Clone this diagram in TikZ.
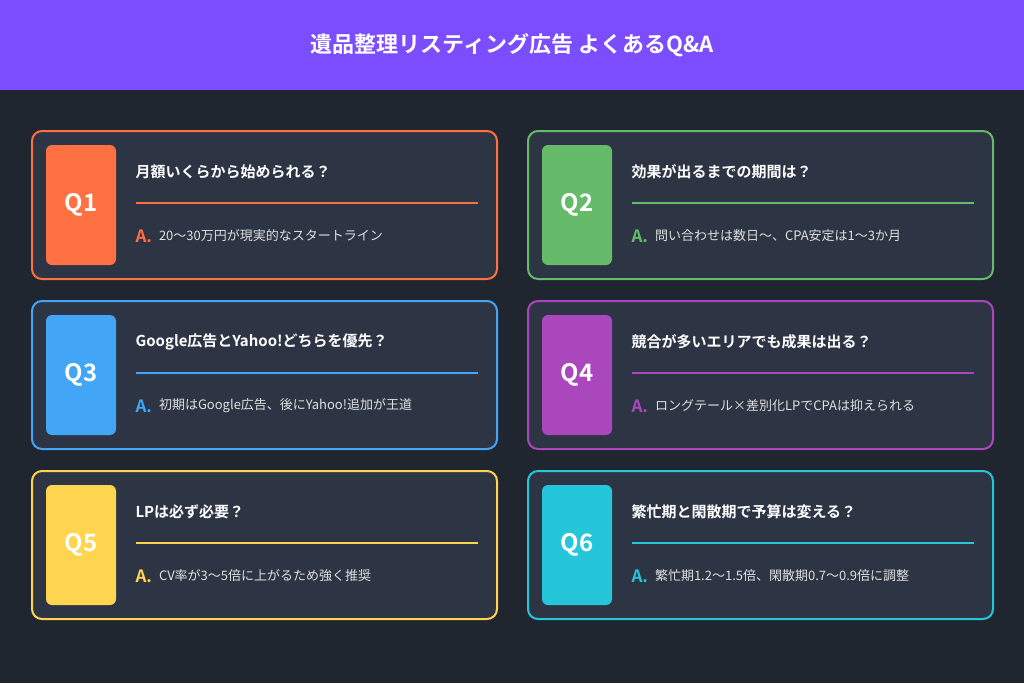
\documentclass[tikz,border=0pt]{standalone}
\usepackage{fontspec}
\setmainfont{Noto Sans CJK JP}
\newfontfamily\jpbold{Noto Sans CJK JP Bold}
\definecolor{bgdark}{HTML}{1F2630}
\definecolor{cardbg}{HTML}{2D3444}
\definecolor{headpurple}{HTML}{7C4DFF}
\definecolor{qone}{HTML}{FF7043}
\definecolor{qtwo}{HTML}{66BB6A}
\definecolor{qthree}{HTML}{42A5F5}
\definecolor{qfour}{HTML}{AB47BC}
\definecolor{qfive}{HTML}{FFD54F}
\definecolor{qsix}{HTML}{26C6DA}
\tikzset{
  card/.style={draw=#1, line width=2pt, fill=cardbg, rounded corners=10pt},
  badge/.style={fill=#1, rounded corners=6pt},
  qlabel/.style={text=white, font=\jpbold\fontsize{24}{24}\selectfont},
  question/.style={anchor=west, text=white, font=\jpbold\fontsize{15}{15}\selectfont},
  answer/.style={anchor=west, text=white!88!black, font=\fontsize{13}{13}\selectfont},
}
\begin{document}
\begin{tikzpicture}[x=1pt, y=-1pt]
  % background and header
  \fill[bgdark] (0,0) rectangle (1024,683);
  \fill[headpurple] (0,0) rectangle (1024,90);
  \node[text=white, font=\jpbold\fontsize{22}{22}\selectfont] (title) at (512,45) {遺品整理リスティング広告 よくあるQ\&A};

  % cards
  \foreach \n/\col/\cx/\cy/\q/\a in {
    1/qone/32/131/{月額いくらから始められる？}/{20〜30万円が現実的なスタートライン},
    2/qtwo/528/131/{効果が出るまでの期間は？}/{問い合わせは数日〜、CPA安定は1〜3か月},
    3/qthree/32/301/{Google広告とYahoo!どちらを優先？}/{初期はGoogle広告、後にYahoo!追加が王道},
    4/qfour/528/301/{競合が多いエリアでも成果は出る？}/{ロングテール×差別化LPでCPAは抑えられる},
    5/qfive/32/471/{LPは必ず必要？}/{CV率が3〜5倍に上がるため強く推奨},
    6/qsix/528/471/{繁忙期と閑散期で予算は変える？}/{繁忙期1.2〜1.5倍、閑散期0.7〜0.9倍に調整}}
  {
    \draw[card=\col] (\cx,\cy) rectangle ++(465,148);
    \fill[badge=\col] (\cx+14,\cy+14) rectangle ++(70,120);
    \node[qlabel] (badge-\n) at (\cx+49,\cy+74) {Q\n};
    \node[question] (q-\n) at (\cx+100,\cy+41) {\q};
    \draw[\col, line width=1.2pt] (\cx+104,\cy+72) -- (\cx+446,\cy+72);
    \node[anchor=west, text=\col, font=\jpbold\fontsize{17}{17}\selectfont] (amark-\n) at (\cx+100,\cy+105) {A.};
    \node[answer] (a-\n) at (amark-\n.east) {\a};
  }
\end{tikzpicture}
\end{document}
